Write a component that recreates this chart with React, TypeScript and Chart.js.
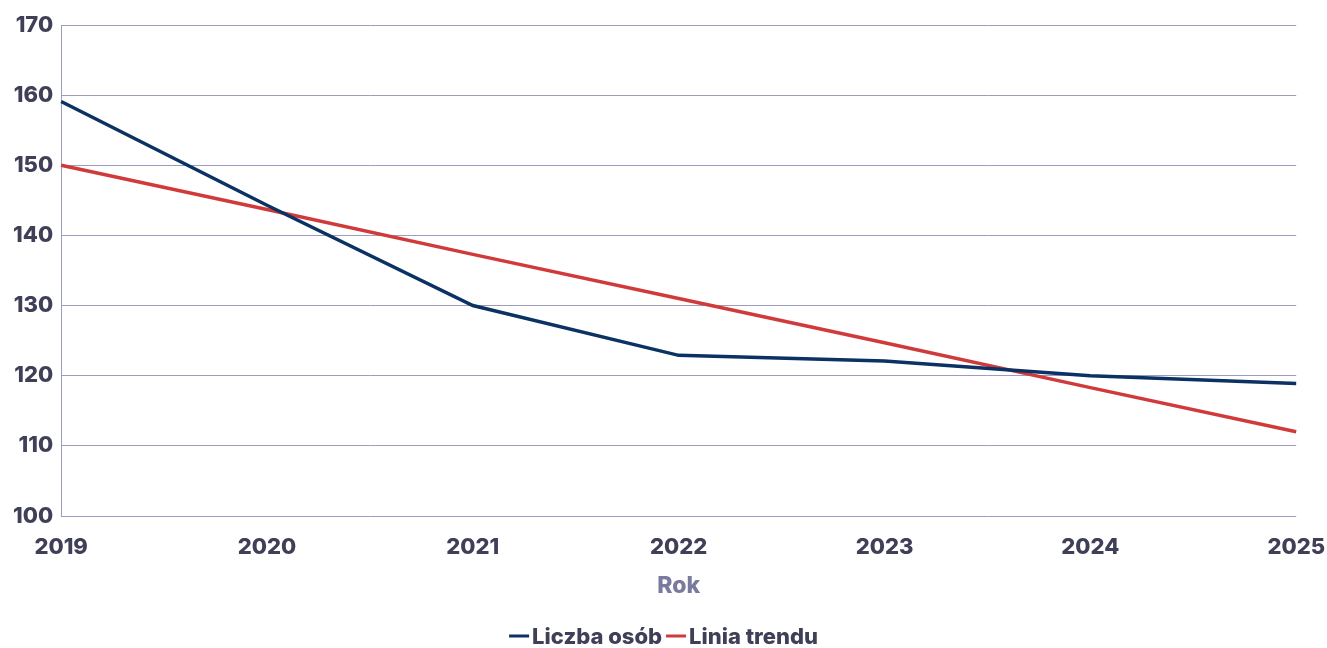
import React, { useEffect, useRef } from "react";
import { Chart, registerables } from "chart.js";

Chart.register(...registerables);

const years = ["2019", "2020", "2021", "2022", "2023", "2024", "2025"];
const liczbaOsob = [159.1, 144.3, 130, 122.9, 122.1, 120, 118.9];
const liniaTrendu = [150, 143.7, 137.3, 131, 124.7, 118.3, 112];
const yTicks = [100, 110, 120, 130, 140, 150, 160, 170];

const TEXT = "#3f3f58";
const GRID = "#9c9cbc";
const TICK_FONT = "Inter, 'DejaVu Sans', sans-serif";
const LEGEND_FONT = "Inter, 'Liberation Sans', sans-serif";

const customLegend = {
  id: "customLegend",
  afterDraw(chart: any) {
    const ctx = chart.ctx;
    const sets = chart.data.datasets;
    ctx.save();
    ctx.font = `800 22px ${LEGEND_FONT}`;
    ctx.textBaseline = "middle";
    const markW = 20, gapText = 3, gapItem = 4;
    const widths = sets.map((d: any) => markW + gapText + ctx.measureText(d.label).width);
    const total = widths.reduce((a: number, b: number) => a + b, 0) + gapItem * (sets.length - 1);
    let x = chart.width / 2 - total / 2;
    const y = chart.height - 12;
    sets.forEach((d: any, i: number) => {
      ctx.fillStyle = d.borderColor;
      ctx.fillRect(x, y - 1.5, markW, 3);
      ctx.fillStyle = TEXT;
      ctx.textAlign = "left";
      ctx.fillText(d.label, x + markW + gapText, y + 1);
      x += widths[i] + gapItem;
    });
    ctx.restore();
  },
};

export default function App() {
  const ref = useRef<HTMLCanvasElement>(null);
  useEffect(() => {
    if (!ref.current) return;
    const chart = new Chart(ref.current, {
      type: "line",
      data: {
        labels: years,
        datasets: [
          {
            label: "Liczba osób",
            data: liczbaOsob,
            borderColor: "#0b3263",
            backgroundColor: "#0b3263",
            borderWidth: 3.5,
            pointRadius: 0,
            tension: 0,
          },
          {
            label: "Linia trendu",
            data: liniaTrendu,
            borderColor: "#d13a3a",
            backgroundColor: "#d13a3a",
            borderWidth: 3.5,
            pointRadius: 0,
            tension: 0,
          },
        ],
      },
      plugins: [customLegend],
      options: {
        animation: false,
        responsive: false,
        maintainAspectRatio: false,
        layout: { padding: { left: 5, right: 2, top: 25, bottom: 49 } },
        plugins: {
          tooltip: { enabled: false },
          legend: { display: false },
        },
        scales: {
          x: {
            grid: { display: false, drawTicks: true, tickLength: 16, tickColor: "rgba(0,0,0,0)" },
            border: { display: false },
            ticks: {
              color: TEXT,
              padding: 2,
              maxRotation: 0,
              font: { family: TICK_FONT, size: 22, weight: "800" },
            },
            title: {
              display: true,
              text: "Rok",
              color: "#7a7a9e",
              padding: { top: 10, bottom: -1 },
              font: { family: TICK_FONT, size: 23, weight: "800" },
            },
          },
          y: {
            min: 100,
            max: 170,
            afterBuildTicks: (axis: any) => {
              axis.ticks = yTicks.map((v) => ({ value: v }));
            },
            grid: { color: GRID, lineWidth: 1, drawTicks: false },
            border: { display: true, color: GRID, width: 1 },
            ticks: {
              color: TEXT,
              padding: 8,
              font: { family: TICK_FONT, size: 22, weight: "800" },
            },
          },
        },
      },
    });
    return () => chart.destroy();
  }, []);
  return (
    <div style={{ position: "absolute", left: 0, top: 0, width: 1327, height: 648 }}>
      <canvas ref={ref} width={1327} height={648} style={{ display: "block" }} />
    </div>
  );
}
